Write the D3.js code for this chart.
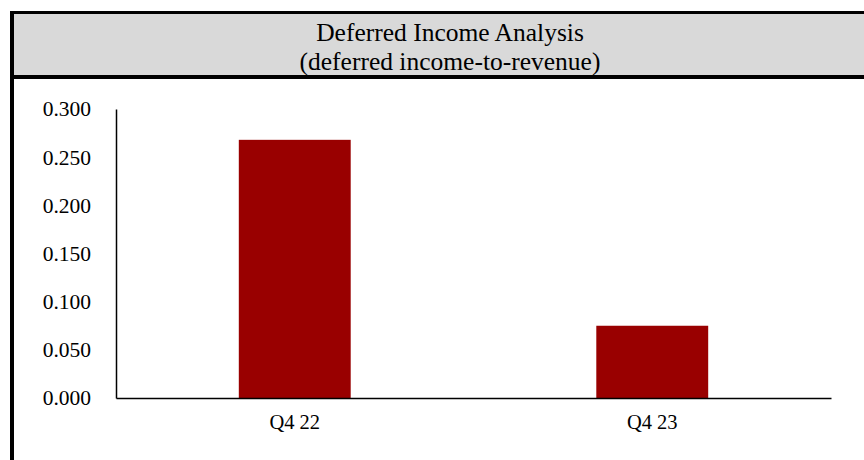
<!DOCTYPE html>
<html>
<head>
<meta charset="utf-8">
<script src="https://cdn.jsdelivr.net/npm/d3@7"></script>
<style>
  body { margin: 0; background: #fff; }
  text { font-family: "Liberation Serif", "Times New Roman", serif; fill: #000; }
</style>
</head>
<body>
<div id="container"></div>
<script>
var categories = ["Q4 22", "Q4 23"];
var values = [0.268, 0.075];
var yTicks = [0, 0.05, 0.1, 0.15, 0.2, 0.25, 0.3];
var titleLines = ["Deferred Income Analysis", "(deferred income-to-revenue)"];

var width = 864, height = 460;

var svg = d3.select("#container").append("svg")
    .attr("width", width)
    .attr("height", height);

/* header band */
svg.append("rect")
    .attr("x", 12).attr("y", 12)
    .attr("width", width - 12).attr("height", 66)
    .attr("fill", "#d9d9d9");
svg.append("rect").attr("x", 10).attr("y", 11).attr("width", width - 10).attr("height", 3).attr("fill", "#000");
svg.append("rect").attr("x", 10).attr("y", 75).attr("width", width - 10).attr("height", 4).attr("fill", "#000");
svg.append("rect").attr("x", 10).attr("y", 11).attr("width", 4).attr("height", height - 11).attr("fill", "#000");

svg.selectAll(".title")
    .data(titleLines)
    .enter().append("text")
    .attr("class", "title")
    .attr("x", 450)
    .attr("y", function(d, i) { return 41 + i * 29; })
    .attr("text-anchor", "middle")
    .style("font-size", "25.5px")
    .text(function(d) { return d; });

var x = d3.scaleBand()
    .domain(categories)
    .range([116, 831])
    .paddingInner(0.687)
    .paddingOuter(0.3435);

var y = d3.scaleLinear()
    .domain([0, 0.3])
    .range([398, 109]);

svg.selectAll(".bar")
    .data(values)
    .enter().append("rect")
    .attr("class", "bar")
    .attr("x", function(d, i) { return x(categories[i]); })
    .attr("width", x.bandwidth())
    .attr("y", function(d) { return y(d); })
    .attr("height", function(d) { return y(0) - y(d); })
    .attr("fill", "#990000");

var yAxis = svg.append("g")
    .attr("transform", "translate(116,0)")
    .call(d3.axisLeft(y).tickValues(yTicks).tickSize(0).tickPadding(25).tickFormat(d3.format(".3f")));
yAxis.select(".domain").attr("stroke", "#000").attr("stroke-width", 1.5);
yAxis.selectAll("text")
    .style("font-size", "21.5px")
    .style("font-family", "Liberation Serif, serif");

var xAxis = svg.append("g")
    .attr("transform", "translate(0,398)")
    .call(d3.axisBottom(x).tickSize(0).tickPadding(16));
xAxis.select(".domain").attr("stroke", "#000").attr("stroke-width", 1.5);
xAxis.selectAll("text")
    .style("font-size", "20.5px")
    .style("font-family", "Liberation Serif, serif");
</script>
</body>
</html>
